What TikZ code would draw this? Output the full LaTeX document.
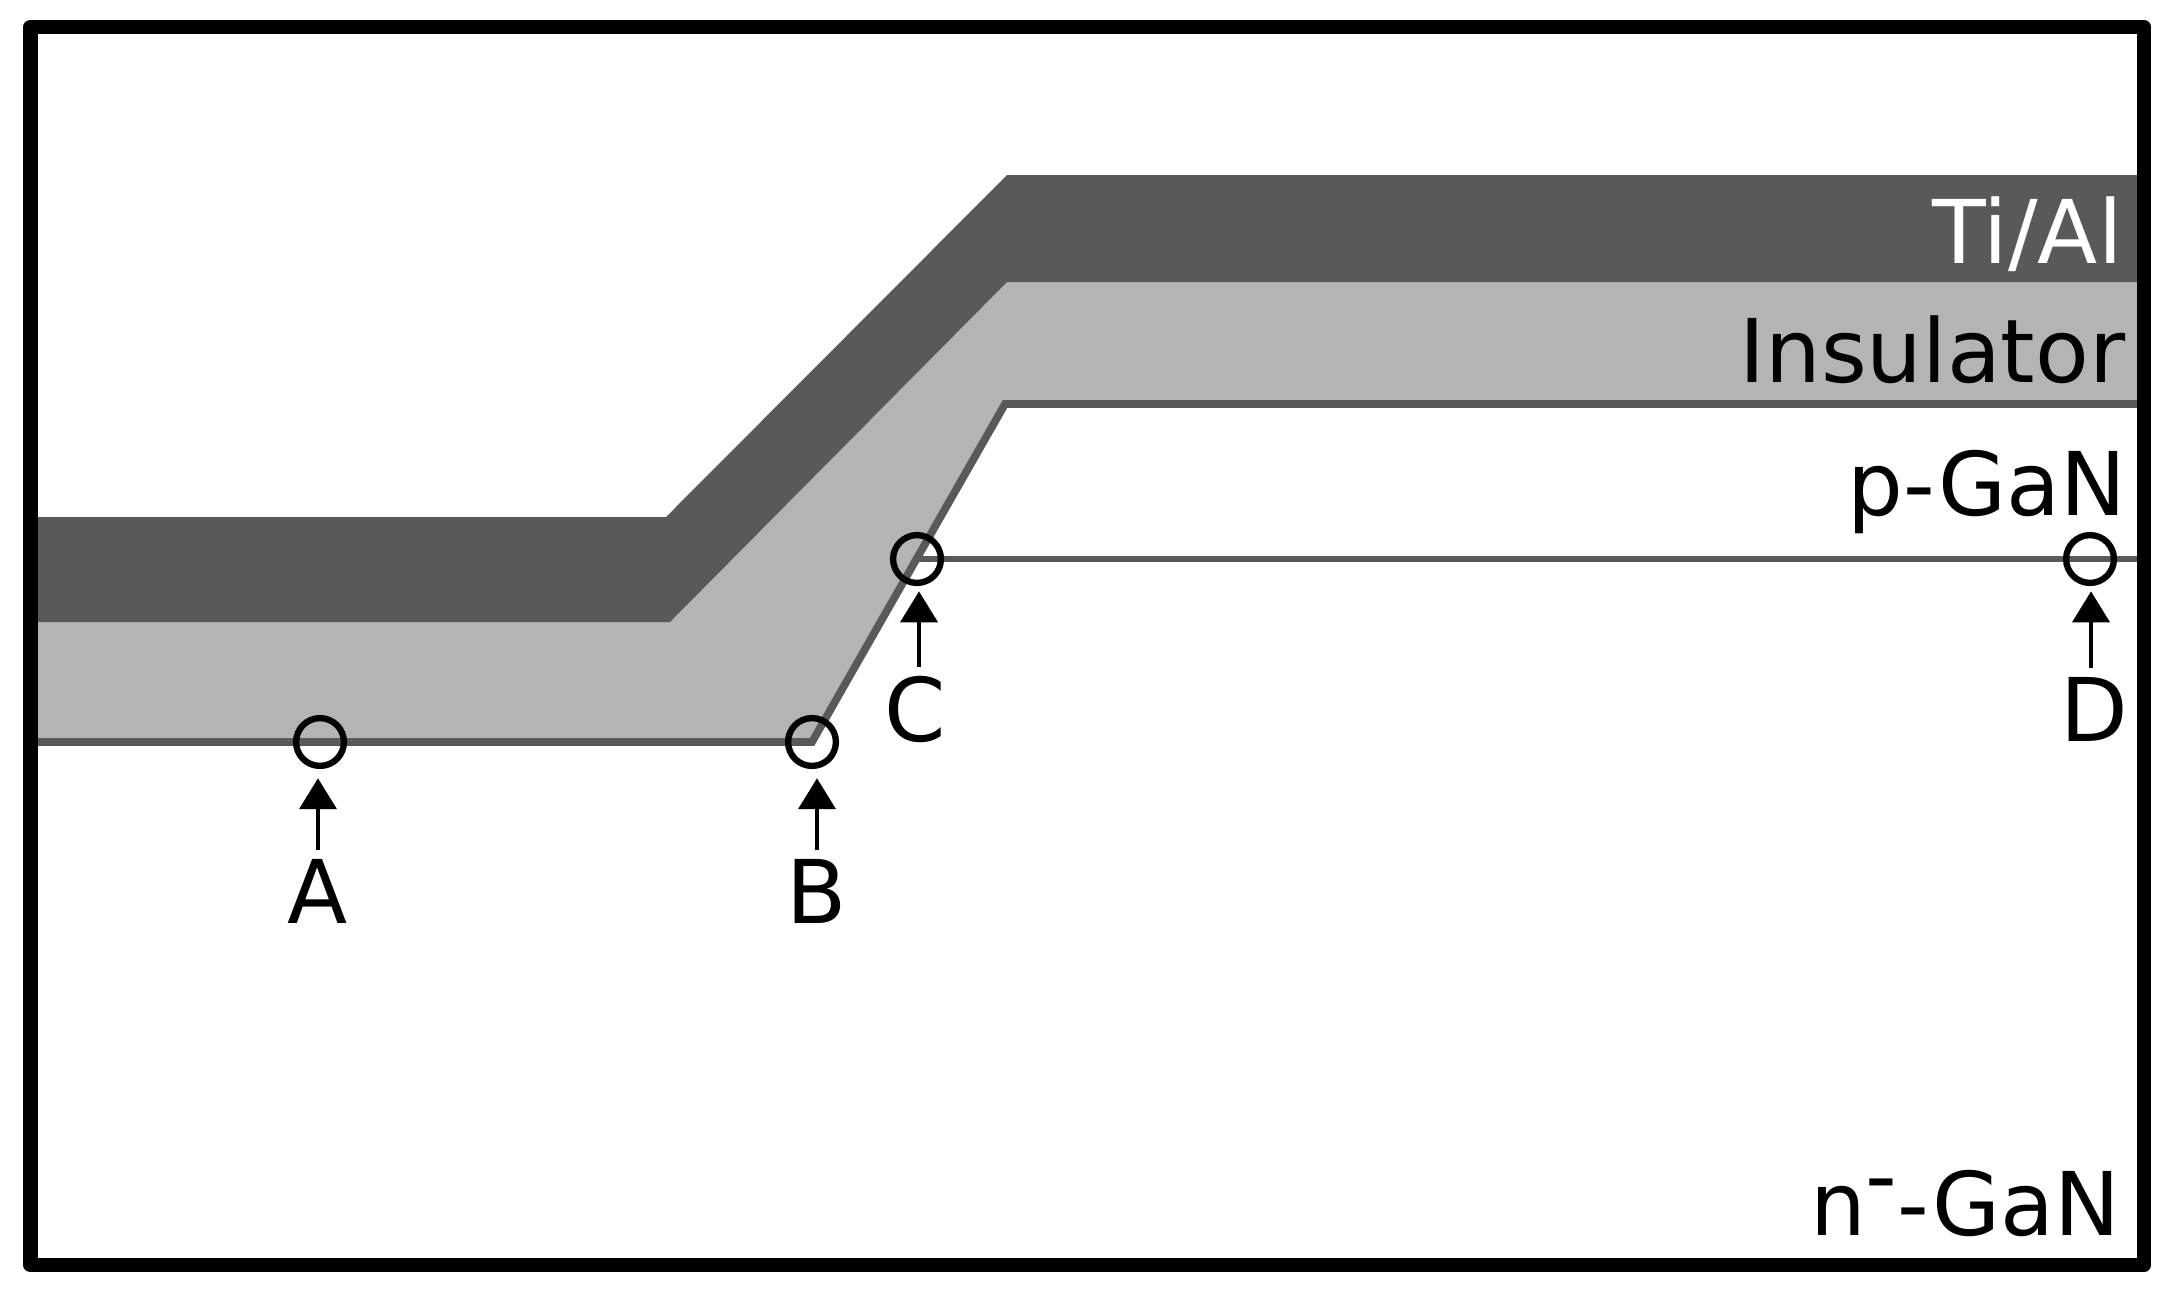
\documentclass[tikz,border=0pt]{standalone}
\usepackage{fontspec}
\setmainfont{DejaVu Sans}
\usetikzlibrary{arrows.meta,calc}
\definecolor{metalgray}{HTML}{595959}
\definecolor{insulgray}{HTML}{B4B4B4}

\begin{document}
\begin{tikzpicture}
[x = 0.01cm, y = -0.01cm]
\tikzset{
	probe node/.style = {circle, draw, line width = 1.8pt, minimum size = 13.6pt, inner sep = 0},
	point label/.style = {anchor = base, font = \fontsize{25}{25}\selectfont, inner sep = 2.3pt},
	layer label/.style = {anchor = base east, font = \fontsize{25}{25}\selectfont, inner sep = 0},
	point arrow/.style = {-{Triangle[length = 8.8pt, width = 10.5pt]}, line width = 1.2pt, shorten > = 2.6pt},
	interface/.style = {draw = metalgray, line join = miter},
}
\useasboundingbox (0,0) rectangle (2167,1296);

\coordinate (ptA) at (320,742);
\coordinate (ptB) at (812,742);
\coordinate (ptC) at (917,559);
\coordinate (ptD) at (2090,559);
\coordinate (edgeL) at (37,0);
\coordinate (edgeR) at (2137,0);

% layers
\fill [insulgray] (37,622) -- (670,622) -- (1007,282) -- (2137,282) -- (2137,404) -- (1005,404) -- (ptB) -- (37,742) -- cycle;
\fill [metalgray] (37,517) -- (666,517) -- (1007,175) -- (2137,175) -- (2137,282) -- (1007,282) -- (670,622) -- (37,622) -- cycle;
\draw [interface, line width = 2.2pt] (ptB -| edgeL) -- (ptB) -- (1005,404) -- (2137,404);
\draw [interface, line width = 1.6pt] (ptC) -- (ptC -| edgeR);

\draw [line width = 4.1pt, line join = round] (30.5,27) rectangle (2144,1265);

\node (tial) [layer label, white] at (2123,263) {Ti/Al};
\node (insul) [layer label] at (2126,382) {Insulator};
\node (pgan) [layer label] at (2127,515) {p-GaN};
\node (ngan) [layer label] at (2121,1235) {n\raisebox{.32em}{-}-GaN};

\node (circA) [probe node] at (ptA) {};
\node (circB) [probe node] at (ptB) {};
\node (circC) [probe node] at (ptC) {};
\node (circD) [probe node] at (ptD) {};

\node (labA) [point label] at (318,923) {A};
\node (labB) [point label] at (817,923) {B};
\node (labC) [point label] at (915,741) {C};
\node (labD) [point label] at (2094,741) {D};

\coordinate (tailC) at ($(labC.north)+(4,0)$);
\coordinate (tailD) at ($(labD.north)+(-3,0)$);

\draw [point arrow] (labA.north) -- (labA.north |- circA.south);
\draw [point arrow] (labB.north) -- (labB.north |- circB.south);
\draw [point arrow, shorten > = 1.5pt] (tailC) -- (tailC |- circC.south);
\draw [point arrow, shorten > = 1.5pt] (tailD) -- (tailD |- circD.south);

\end{tikzpicture}
\end{document}
